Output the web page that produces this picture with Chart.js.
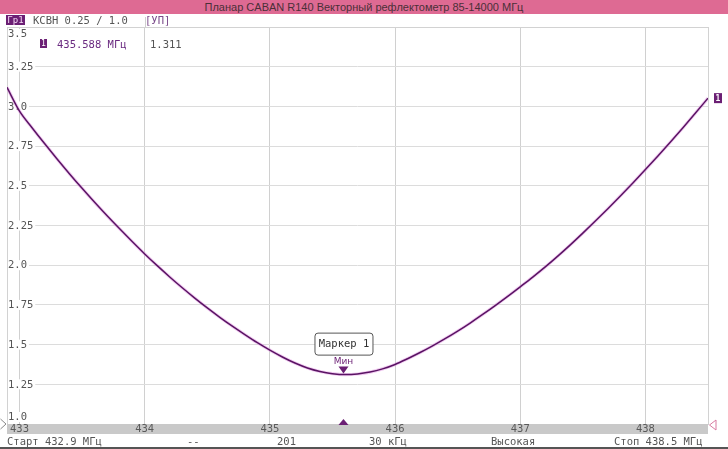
<!DOCTYPE html>
<html><head><meta charset="utf-8">
<script src="https://cdn.jsdelivr.net/npm/chart.js@4/dist/chart.umd.min.js"></script>
<style>
html,body{margin:0;padding:0;background:#fff;width:728px;height:449px;overflow:hidden;}
#wrap{position:relative;width:728px;height:449px;}
canvas{position:absolute;left:0;top:0;}
.t{position:absolute;white-space:pre;font-family:"DejaVu Sans Mono",monospace;font-size:10.5px;line-height:12px;color:#555;}
#title{position:absolute;left:0;top:0;width:728px;height:14px;background:#de6a93;color:#4a3038;font-family:"Liberation Sans",Arial,sans-serif;font-size:11px;line-height:14px;text-align:center;}
.box{position:absolute;background:#6b1f74;color:#f4d8f4;font-family:"DejaVu Sans Mono",monospace;text-align:center;}
#bottomline{position:absolute;left:0;top:447px;width:728px;height:2px;background:#555;}
</style></head>
<body><div id="wrap">
<canvas id="c" width="728" height="449"></canvas>
<div id="title">Планар CABAN R140 Векторный рефлектометр 85-14000 МГц</div>
<div class="box" style="left:6px;top:15px;width:19px;height:10px;font-size:9px;line-height:10px;">Гр1</div>
<div class="t" style="left:33px;top:14px;">КСВН 0.25 / 1.0</div>
<div class="t" style="left:145px;top:14px;color:#7a4a8a;">[УП]</div>
<div class="box" style="left:40px;top:39px;width:7px;height:9px;font-size:8px;line-height:9px;color:#fff;">1</div>
<div class="t" id="rdF" style="left:57px;top:38px;color:#6a2a80;"></div>
<div class="t" id="rdV" style="left:150px;top:38px;"></div>
<div class="t" style="left:7px;top:435px;">Старт 432.9 МГц</div>
<div class="t" style="left:187px;top:435px;">--</div>
<div class="t" style="left:277px;top:435px;">201</div>
<div class="t" style="left:369px;top:435px;">30 кГц</div>
<div class="t" style="left:491px;top:435px;">Высокая</div>
<div class="t" style="left:614px;top:435px;">Стоп 438.5 МГц</div>
<div id="bottomline"></div>
</div>
<script>
// ---- data ----
const freqs = [432.9,433.0,433.1,433.2,433.3,433.4,433.5,433.6,433.7,433.8,433.9,
  434.0,434.1,434.2,434.3,434.4,434.5,434.6,434.7,434.8,434.9,
  435.0,435.1,435.2,435.3,435.4,435.5,435.6,435.7,435.8,435.9,
  436.0,436.1,436.2,436.3,436.4,436.5,436.6,436.7,436.8,436.9,
  437.0,437.1,437.2,437.3,437.4,437.5,437.6,437.7,437.8,437.9,
  438.0,438.1,438.2,438.3,438.4,438.5];
const vswr = [3.12,2.97,2.866,2.766,2.669,2.575,2.484,2.396,2.311,2.229,2.149,
  2.071,1.997,1.926,1.858,1.793,1.731,1.672,1.616,1.563,1.512,
  1.465,1.422,1.384,1.353,1.331,1.317,1.311,1.315,1.327,1.347,
  1.375,1.411,1.45,1.492,1.537,1.585,1.636,1.69,1.746,1.804,
  1.864,1.925,1.989,2.057,2.128,2.202,2.278,2.356,2.436,2.518,
  2.602,2.688,2.776,2.866,2.958,3.052];
const xTicks = [433,434,435,436,437,438];
const yTicks = [1.0,1.25,1.5,1.75,2.0,2.25,2.5,2.75,3.0,3.25,3.5];
const markerFreq = 435.588;
const markerValue = 1.311;
const markerLabel = 'Маркер 1';
const markerKind = 'Мин';

document.getElementById('rdF').textContent = markerFreq.toFixed(3) + ' МГц';
document.getElementById('rdV').textContent = markerValue.toFixed(3);

const PURPLE = '#6b1f74';
const MONO = '"DejaVu Sans Mono", monospace';
const fmtY = v => (Math.abs(v*10 - Math.round(v*10)) < 1e-9) ? v.toFixed(1) : v.toFixed(2);

const decor = {
  id: 'decor',
  beforeDatasetsDraw(chart) {
    const {ctx, chartArea: a, scales: {x, y}} = chart;
    ctx.save();
    ctx.strokeStyle = '#d2d2d2'; ctx.lineWidth = 1;
    ctx.strokeRect(Math.round(a.left)+0.5, Math.round(a.top)+0.5, Math.round(a.right-a.left), Math.round(a.bottom-a.top));
    // extension of the 434 grid line through the header
    const gx = Math.round(x.getPixelForValue(434)) + 0.5;
    ctx.strokeStyle = '#d0d0d0';
    ctx.beginPath(); ctx.moveTo(gx, 17); ctx.lineTo(gx, a.top); ctx.stroke();
    ctx.font = '10.5px ' + MONO;
    ctx.textBaseline = 'middle'; ctx.textAlign = 'left';
    yTicks.forEach(v => {
      let py = y.getPixelForValue(v);
      if (v === y.max) py += 7;
      if (v === y.min) py -= 7;
      const s = fmtY(v);
      const w = ctx.measureText(s).width;
      ctx.fillStyle = '#fff';
      ctx.fillRect(a.left + 1, py - 5, w + 2, 10);
      ctx.fillStyle = '#555';
      ctx.fillText(s, a.left + 1, py + 0.5);
    });
    ctx.restore();
  },
  afterDraw(chart) {
    const {ctx, chartArea: a, scales: {x, y}} = chart;
    ctx.save();
    ctx.fillStyle = '#c9c9c9';
    ctx.fillRect(a.left, a.bottom, a.right - a.left, 10);
    ctx.font = '10.5px ' + MONO;
    ctx.textBaseline = 'middle'; ctx.textAlign = 'center';
    ctx.fillStyle = '#5a5a5a';
    xTicks.forEach(v => ctx.fillText(String(v), x.getPixelForValue(v), a.bottom + 5.5));
    const mx = x.getPixelForValue(markerFreq), my = y.getPixelForValue(markerValue);
    ctx.fillStyle = PURPLE;
    ctx.beginPath(); ctx.moveTo(mx - 5, my - 8); ctx.lineTo(mx + 5, my - 8); ctx.lineTo(mx, my - 1); ctx.closePath(); ctx.fill();
    ctx.font = '9px "DejaVu Sans", sans-serif';
    ctx.fillText(markerKind, mx, my - 13);
    ctx.font = '10.5px ' + MONO;
    const bw = 58, bh = 22, bx = mx - 29, by = my - 42;
    ctx.beginPath();
    if (ctx.roundRect) ctx.roundRect(bx + 0.5, by + 0.5, bw, bh, 3); else ctx.rect(bx + 0.5, by + 0.5, bw, bh);
    ctx.fillStyle = '#fff'; ctx.fill();
    ctx.strokeStyle = '#555'; ctx.lineWidth = 1; ctx.stroke();
    ctx.fillStyle = '#333';
    ctx.fillText(markerLabel, mx + 0.5, by + 12);
    ctx.fillStyle = PURPLE;
    ctx.beginPath(); ctx.moveTo(mx - 5, a.bottom + 1); ctx.lineTo(mx + 5, a.bottom + 1); ctx.lineTo(mx, a.bottom - 5); ctx.closePath(); ctx.fill();
    const ly = y.getPixelForValue(vswr[vswr.length - 1]);
    ctx.fillRect(a.right + 6, ly - 5, 8, 10);
    ctx.fillStyle = '#fff'; ctx.font = 'bold 8px ' + MONO;
    ctx.fillText('1', a.right + 10, ly + 0.5);
    const ry = y.getPixelForValue(1.0);
    ctx.strokeStyle = '#888'; ctx.lineWidth = 1;
    ctx.beginPath(); ctx.moveTo(0.5, ry - 5); ctx.lineTo(6, ry); ctx.lineTo(0.5, ry + 5); ctx.stroke();
    ctx.strokeStyle = '#d87aa0';
    ctx.beginPath(); ctx.moveTo(a.right + 8, ry - 4); ctx.lineTo(a.right + 1.5, ry + 1); ctx.lineTo(a.right + 8, ry + 6); ctx.closePath(); ctx.stroke();
    ctx.restore();
  }
};

const pts = freqs.map((f, i) => ({x: f, y: vswr[i]}));
new Chart(document.getElementById('c'), {
  type: 'line',
  data: { datasets: [
    { data: pts, borderColor: '#5a1464', borderWidth: 1.5, pointRadius: 0, cubicInterpolationMode: 'monotone', fill: false },
    { data: pts, borderColor: 'rgba(225,140,225,0.45)', borderWidth: 3.2, pointRadius: 0, cubicInterpolationMode: 'monotone', fill: false }
  ]},
  options: {
    responsive: false, animation: false, events: [],
    layout: { padding: { left: 7, top: 27, right: 20, bottom: 25 } },
    plugins: { legend: { display: false }, tooltip: { enabled: false } },
    scales: {
      x: { type: 'linear', min: 432.9, max: 438.5,
           afterBuildTicks: s => { s.ticks = xTicks.map(v => ({value: v})); },
           ticks: { display: false }, grid: { color: '#d0d0d0', drawTicks: false }, border: { display: false } },
      y: { type: 'linear', min: 1, max: 3.5,
           afterBuildTicks: s => { s.ticks = yTicks.map(v => ({value: v})); },
           ticks: { display: false }, grid: { color: '#dcdcdc', drawTicks: false }, border: { display: false } }
    }
  },
  plugins: [decor]
});
</script>
</body></html>
